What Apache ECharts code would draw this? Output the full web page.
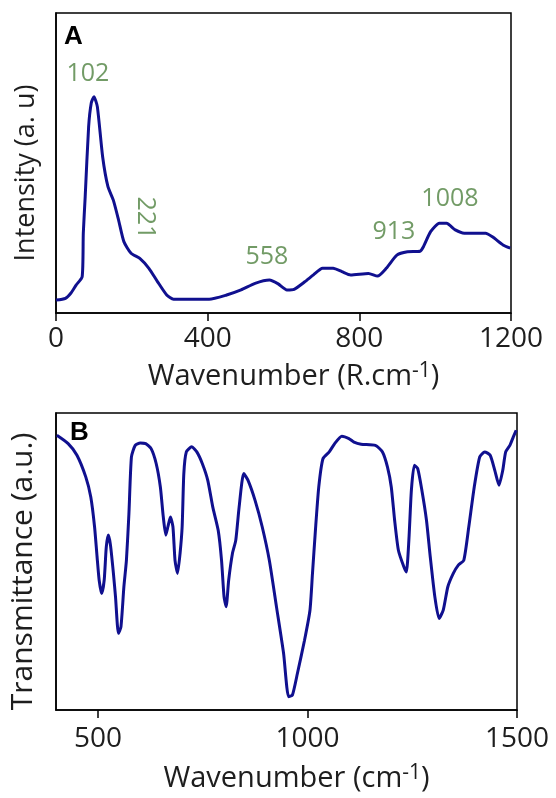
<!DOCTYPE html>
<html>
<head>
<meta charset="utf-8">
<script src="https://cdn.jsdelivr.net/npm/echarts@6/dist/echarts.min.js"></script>
<style>
html,body{margin:0;padding:0;background:#fff;}
#chart{width:556px;height:798px;}
</style>
</head>
<body>
<div id="chart"></div>
<script>
// Panel A: Raman spectrum
const ramanX = [0, 25, 39, 53, 69, 72, 77, 86, 93, 100, 109, 123, 137, 151, 165, 179, 198, 221, 245, 268, 292, 310, 404, 450, 488, 525, 563, 586, 609, 628, 656, 679, 703, 731, 754, 777, 824, 848, 871, 899, 927, 960, 969, 988, 1011, 1030, 1053, 1077, 1133, 1151, 1179, 1198];
const ramanY = [4.3, 4.9, 6.6, 9.3, 12.1, 26.6, 38.8, 62, 70, 72.1, 68.8, 52.1, 42.1, 37.7, 31, 23.8, 19.9, 18.2, 14.9, 10.4, 6, 4.6, 4.6, 6, 7.7, 9.9, 11, 9.7, 7.7, 7.9, 10.4, 12.7, 14.9, 14.9, 13.8, 12.7, 13.2, 12.3, 14.9, 19.3, 20.4, 20.6, 22.1, 27.1, 29.9, 29.9, 27.7, 26.6, 26.6, 25.4, 22.7, 21.6];
const ramanTicks = [0, 400, 800, 1200];
const peakLabels = ['102', '221', '558', '913', '1008'];
const peakLabelX = [84, 235, 556, 891, 1039];
const peakLabelY = [79.7, 31.7, 18.7, 27, 38];

// Panel B: FTIR spectrum
const ftirX = [402, 429, 450, 471, 483, 492, 498, 503, 509, 515, 520, 525, 530, 537, 542, 549, 555, 562, 568, 574, 580, 589, 601, 614, 627, 639, 649, 656, 662, 667, 673, 679, 684, 690, 696, 701, 705, 711, 724, 736, 749, 762, 774, 787, 795, 801, 806, 812, 821, 829, 837, 848, 858, 875, 892, 909, 926, 943, 955, 964, 976, 993, 1006, 1012, 1019, 1027, 1037, 1052, 1065, 1082, 1099, 1111, 1128, 1162, 1179, 1191, 1200, 1208, 1217, 1230, 1236, 1242, 1248, 1255, 1263, 1273, 1284, 1293, 1304, 1314, 1324, 1335, 1348, 1360, 1373, 1385, 1398, 1411, 1423, 1436, 1447, 1457, 1466, 1473, 1483, 1491, 1498];
const ftirY = [92.5, 89.7, 85.8, 78.5, 71.7, 61.7, 51.6, 43.7, 39.2, 43.7, 54.9, 58.9, 55.5, 46, 38.1, 25.8, 28, 41.5, 50.4, 66.1, 85.2, 89.1, 89.9, 89.7, 88, 83, 75.1, 65, 58.9, 61.7, 65, 61.7, 50.4, 46, 52.7, 61.7, 79.6, 86.9, 88.6, 86.9, 83, 77.4, 68.4, 60.5, 50.4, 38.1, 34.8, 43.7, 52.7, 57.2, 68.4, 79.6, 77.4, 70.6, 61.7, 50.4, 34.8, 19.1, 4.5, 5, 12.3, 23.5, 33.6, 46, 60.5, 75.1, 84.6, 86.9, 89.7, 92.2, 91.4, 90.2, 89.5, 89.1, 86.9, 81.8, 75.1, 63.9, 53.8, 48.2, 46.5, 57.2, 74, 82.4, 81.3, 74, 63.9, 51.6, 38.1, 30.8, 33.6, 41.5, 46, 48.8, 50.4, 61.7, 75.1, 85.2, 86.9, 85.8, 80.7, 75.7, 80.7, 86.9, 89.1, 91.9, 94.2];
const ftirTicks = [500, 1000, 1500];

const FONT = 'Open Sans';
const LINE = '#10108f';
const GREEN = '#4f8240';
const TXT = '#1e1e1e';

const chart = echarts.init(document.getElementById('chart'), null, {renderer: 'canvas'});

const axisCommon = {
  axisLine: {show: true, onZero: false, lineStyle: {color: '#000', width: 1.5}},
  splitLine: {show: false}
};
const plain = v => String(v);

const option = {
  animation: false,
  backgroundColor: '#fff',
  grid: [
    {left: 56, top: 13, width: 455, height: 300, show: true, borderColor: '#000', borderWidth: 1.5, backgroundColor: 'transparent'},
    {left: 56, top: 413, width: 461, height: 297, show: true, borderColor: '#000', borderWidth: 1.5, backgroundColor: 'transparent'}
  ],
  xAxis: [
    Object.assign({}, axisCommon, {
      type: 'value', gridIndex: 0, min: ramanTicks[0], max: ramanTicks[ramanTicks.length - 1], interval: 400,
      axisTick: {show: true, inside: false, length: 8, lineStyle: {color: '#000', width: 1.5}},
      axisLabel: {show: true, margin: 12, fontSize: 28, fontFamily: FONT, color: TXT, formatter: plain, showMinLabel: true, showMaxLabel: true},
      name: 'Wavenumber (R.cm{sup|-1})', nameLocation: 'middle', nameGap: 48,
      nameTextStyle: {fontSize: 29, fontFamily: FONT, color: TXT, lineHeight: 31, padding: [0, 0, 0, 20],
        rich: {sup: {fontSize: 21, fontFamily: FONT, color: TXT, verticalAlign: 'top', lineHeight: 22}}}
    }),
    Object.assign({}, axisCommon, {
      type: 'value', gridIndex: 1, min: 400, max: 1500,
      axisTick: {show: true, inside: false, length: 8, lineStyle: {color: '#000', width: 1.5}, customValues: ftirTicks},
      axisLabel: {show: true, margin: 15, fontSize: 28, fontFamily: FONT, color: TXT, formatter: plain, customValues: ftirTicks},
      name: 'Wavenumber (cm{sup|-1})', nameLocation: 'middle', nameGap: 53,
      nameTextStyle: {fontSize: 29, fontFamily: FONT, color: TXT, lineHeight: 31, padding: [0, 0, 0, 20],
        rich: {sup: {fontSize: 21, fontFamily: FONT, color: TXT, verticalAlign: 'top', lineHeight: 22}}}
    })
  ],
  yAxis: [
    Object.assign({}, axisCommon, {
      type: 'value', gridIndex: 0, min: 0, max: 100,
      axisTick: {show: false}, axisLabel: {show: false},
      name: 'Intensity (a. u)', nameLocation: 'middle', nameRotate: 90, nameGap: 16,
      nameTextStyle: {fontSize: 27, fontFamily: FONT, color: TXT, padding: [0, 20, 0, 0]}
    }),
    Object.assign({}, axisCommon, {
      type: 'value', gridIndex: 1, min: 0, max: 100,
      axisTick: {show: false}, axisLabel: {show: false},
      name: 'Transmittance (a.u.)', nameLocation: 'middle', nameRotate: 90, nameGap: 18,
      nameTextStyle: {fontSize: 30, fontFamily: FONT, color: TXT, padding: [0, 20, 0, 0]}
    })
  ],
  series: [
    {
      name: 'Raman', type: 'line', xAxisIndex: 0, yAxisIndex: 0,
      data: ramanX.map((x, i) => [x, ramanY[i]]),
      showSymbol: false, symbol: 'none', smooth: 0.2,
      lineStyle: {color: LINE, width: 3}, z: 3
    },
    {
      name: 'Peaks', type: 'scatter', xAxisIndex: 0, yAxisIndex: 0,
      data: peakLabels.map((t, i) => ({
        value: [peakLabelX[i], peakLabelY[i]], name: t,
        label: {rotate: t === '221' ? -90 : 0}
      })),
      symbolSize: 0, silent: true,
      label: {show: true, position: 'inside', formatter: p => p.name,
        fontSize: 25, fontFamily: FONT, color: GREEN}, z: 4
    },
    {
      name: 'FTIR', type: 'line', xAxisIndex: 1, yAxisIndex: 1,
      data: ftirX.map((x, i) => [x, ftirY[i]]),
      showSymbol: false, symbol: 'none', smooth: 0.2,
      lineStyle: {color: LINE, width: 3}, z: 3
    }
  ],
  graphic: [
    {type: 'text', left: 64, top: 24, style: {text: 'A', font: 'bold 26px "Liberation Sans"', fill: '#000'}},
    {type: 'text', left: 70, top: 420, style: {text: 'B', font: 'bold 26px "Liberation Sans"', fill: '#000'}}
  ]
};
chart.setOption(option);
</script>
</body>
</html>
